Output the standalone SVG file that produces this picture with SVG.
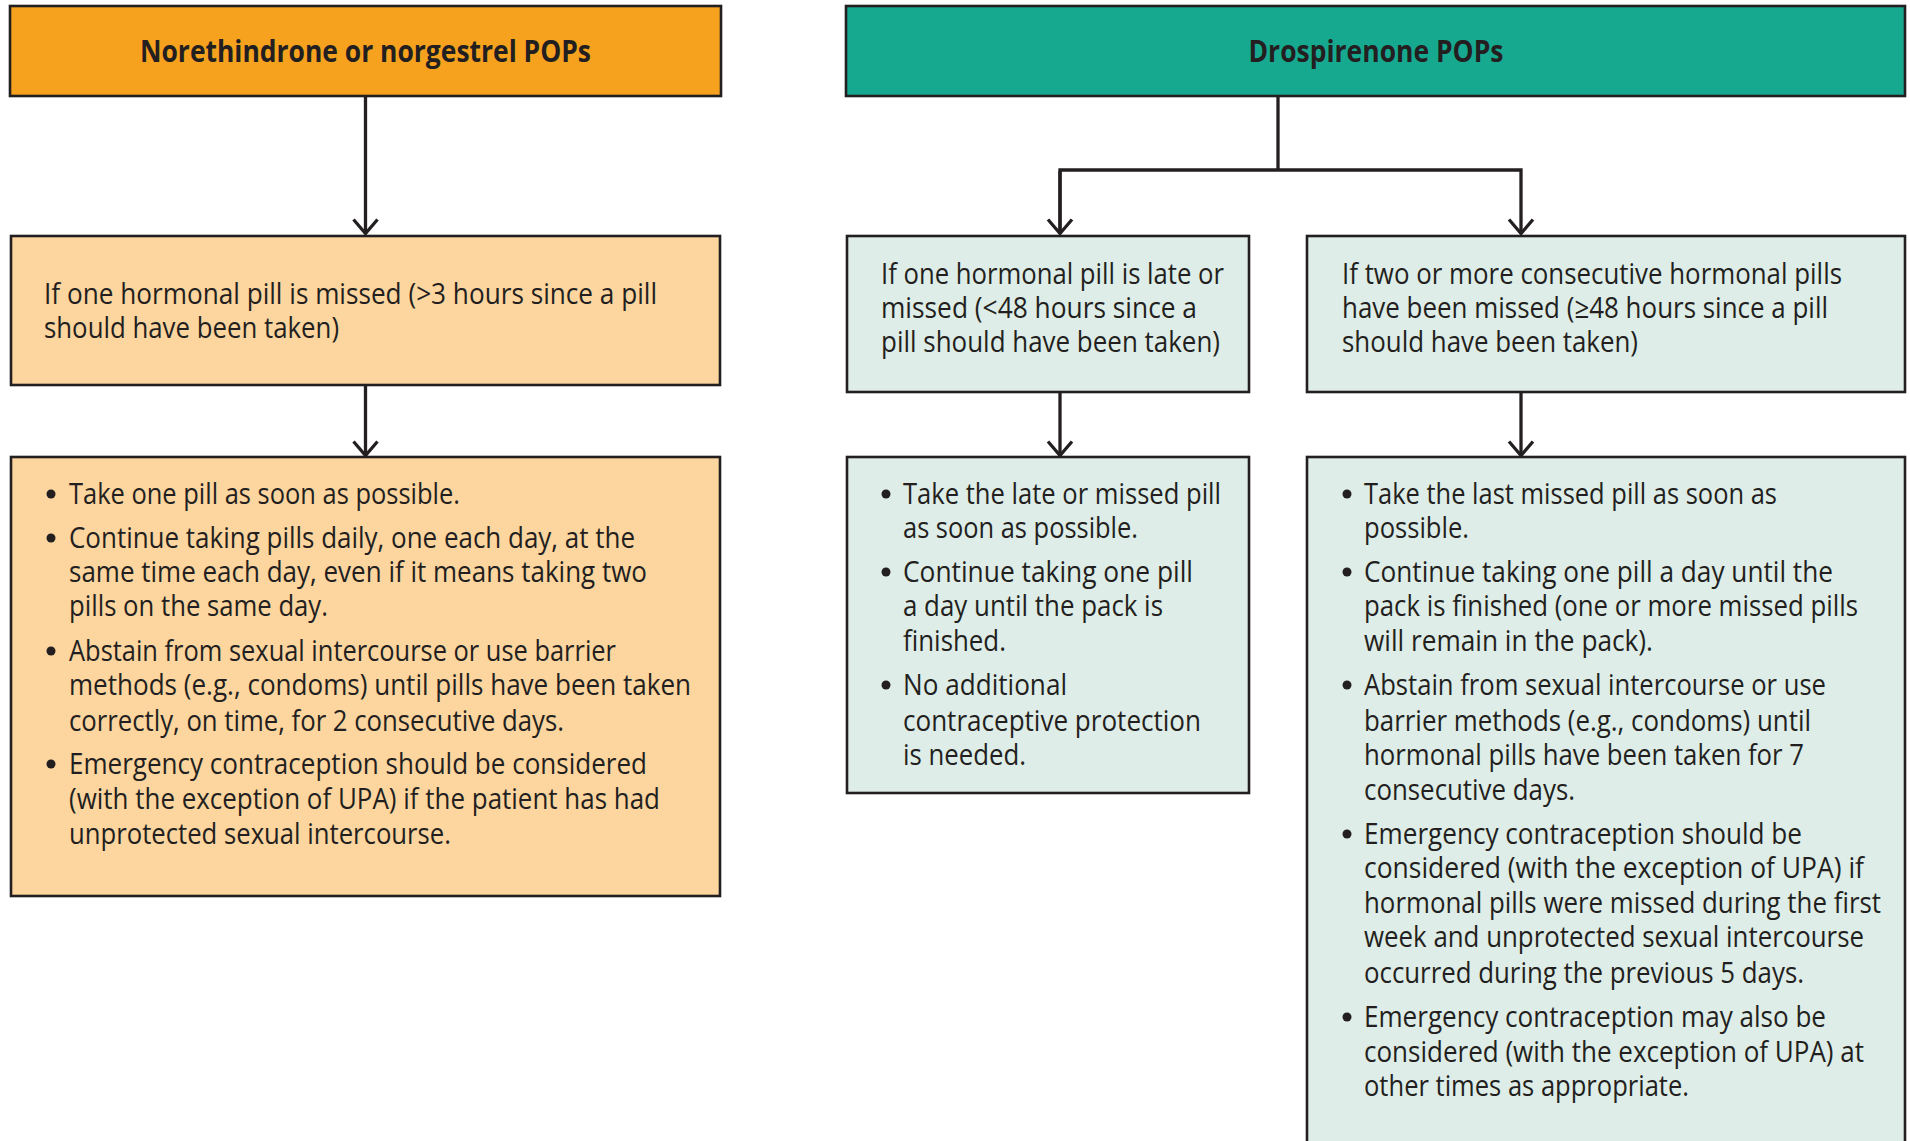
<svg xmlns="http://www.w3.org/2000/svg" width="1910" height="1141" viewBox="0 0 1910 1141">
<style>
.box{stroke:#231f20;stroke-width:2.6}
.h1{fill:#f6a21e}
.h2{fill:#16a990}
.lo{fill:#fcd59f}
.lt{fill:#deede7}
.hd{font-family:"Open Sans","Liberation Sans",sans-serif;font-weight:bold;font-size:30px;fill:#231f20;text-anchor:middle}
.t{font-family:"Open Sans","Liberation Sans",sans-serif;font-size:29px;fill:#231f20}
.dot{fill:#231f20}
.con{fill:none;stroke:#231f20;stroke-width:3.3}
</style>
<defs>
<marker id="arr" markerUnits="userSpaceOnUse" viewBox="0 0 20 30" markerWidth="20" markerHeight="30" refX="17.5" refY="15" orient="auto">
<path d="M3 3 L17 15 L3 27" fill="none" stroke="#231f20" stroke-width="3.3"/>
</marker>
</defs>
<rect width="1910" height="1141" fill="#ffffff"/>

<g id="connectors">
<path class="con" d="M365.5 97 V234" marker-end="url(#arr)"/>
<path class="con" d="M365.5 386 V456" marker-end="url(#arr)"/>
<path class="con" d="M1278 97 V170"/>
<path class="con" d="M1060 234 V170 H1521 V234" marker-end="url(#arr)"/>
<path class="con" d="M1060 171 V234" marker-end="url(#arr)"/>
<path class="con" d="M1060 393 V456" marker-end="url(#arr)"/>
<path class="con" d="M1521 393 V456" marker-end="url(#arr)"/>
</g>

<g id="header-norethindrone">
<rect class="box h1" x="10" y="6" width="711" height="90"/>
<text class="hd" x="365.5" y="62" textLength="451" lengthAdjust="spacingAndGlyphs">Norethindrone or norgestrel POPs</text>
</g>

<g id="header-drospirenone">
<rect class="box h2" x="846" y="6" width="1059" height="90"/>
<text class="hd" x="1376" y="62" textLength="255" lengthAdjust="spacingAndGlyphs">Drospirenone POPs</text>
</g>

<g id="nor-condition">
<rect class="box lo" x="11" y="236" width="709" height="149"/>
<text class="t" x="44" y="304" textLength="613" lengthAdjust="spacingAndGlyphs">If one hormonal pill is missed  (&gt;3 hours since a pill</text>
<text class="t" x="44" y="338" textLength="295" lengthAdjust="spacingAndGlyphs">should have been taken)</text>
</g>

<g id="nor-actions">
<rect class="box lo" x="11" y="457" width="709" height="439"/>
<circle class="dot" cx="51" cy="494" r="4.5"/>
<text class="t" x="69" y="504" textLength="391" lengthAdjust="spacingAndGlyphs">Take one pill as soon as possible.</text>
<circle class="dot" cx="51" cy="538" r="4.5"/>
<text class="t" x="69" y="548" textLength="566" lengthAdjust="spacingAndGlyphs">Continue taking pills daily, one each day, at the</text>
<text class="t" x="69" y="582" textLength="578" lengthAdjust="spacingAndGlyphs">same time each day, even if it means taking two</text>
<text class="t" x="69" y="616" textLength="259" lengthAdjust="spacingAndGlyphs">pills on the same day.</text>
<circle class="dot" cx="51" cy="651" r="4.5"/>
<text class="t" x="69" y="661" textLength="547" lengthAdjust="spacingAndGlyphs">Abstain from sexual intercourse or use barrier</text>
<text class="t" x="69" y="695" textLength="622" lengthAdjust="spacingAndGlyphs">methods (e.g., condoms) until pills have been taken</text>
<text class="t" x="69" y="731" textLength="495" lengthAdjust="spacingAndGlyphs">correctly, on time, for 2 consecutive days.</text>
<circle class="dot" cx="51" cy="764" r="4.5"/>
<text class="t" x="69" y="774" textLength="578" lengthAdjust="spacingAndGlyphs">Emergency contraception should be considered</text>
<text class="t" x="69" y="809" textLength="591" lengthAdjust="spacingAndGlyphs">(with the exception of UPA) if the patient has had</text>
<text class="t" x="69" y="844" textLength="382" lengthAdjust="spacingAndGlyphs">unprotected sexual intercourse.</text>
</g>

<g id="dro-late">
<rect class="box lt" x="847" y="236" width="402" height="156"/>
<text class="t" x="881" y="284" textLength="343" lengthAdjust="spacingAndGlyphs">If one hormonal pill is late or</text>
<text class="t" x="881" y="318" textLength="316" lengthAdjust="spacingAndGlyphs">missed  (&lt;48 hours since a</text>
<text class="t" x="881" y="352" textLength="339" lengthAdjust="spacingAndGlyphs">pill should have been taken)</text>
</g>

<g id="dro-missed">
<rect class="box lt" x="1307" y="236" width="598" height="156"/>
<text class="t" x="1342" y="284" textLength="500" lengthAdjust="spacingAndGlyphs">If two or more consecutive hormonal pills</text>
<text class="t" x="1342" y="318" textLength="486" lengthAdjust="spacingAndGlyphs">have been missed (≥48 hours since a pill</text>
<text class="t" x="1342" y="352" textLength="296" lengthAdjust="spacingAndGlyphs">should have been taken)</text>
</g>

<g id="dro-late-actions">
<rect class="box lt" x="847" y="457" width="402" height="336"/>
<circle class="dot" cx="886" cy="494" r="4.5"/>
<text class="t" x="903" y="504" textLength="318" lengthAdjust="spacingAndGlyphs">Take the late or missed pill</text>
<text class="t" x="903" y="538" textLength="235" lengthAdjust="spacingAndGlyphs">as soon as possible.</text>
<circle class="dot" cx="886" cy="572" r="4.5"/>
<text class="t" x="903" y="582" textLength="290" lengthAdjust="spacingAndGlyphs">Continue taking one pill</text>
<text class="t" x="903" y="616" textLength="260" lengthAdjust="spacingAndGlyphs">a day until the pack is</text>
<text class="t" x="903" y="651" textLength="103" lengthAdjust="spacingAndGlyphs">finished.</text>
<circle class="dot" cx="886" cy="685" r="4.5"/>
<text class="t" x="903" y="695" textLength="164" lengthAdjust="spacingAndGlyphs">No additional</text>
<text class="t" x="903" y="731" textLength="298" lengthAdjust="spacingAndGlyphs">contraceptive protection</text>
<text class="t" x="903" y="765" textLength="123" lengthAdjust="spacingAndGlyphs">is needed.</text>
</g>

<g id="dro-missed-actions">
<rect class="box lt" x="1307" y="457" width="598" height="710"/>
<circle class="dot" cx="1347" cy="494" r="4.5"/>
<text class="t" x="1364" y="504" textLength="413" lengthAdjust="spacingAndGlyphs">Take the last missed pill as soon as</text>
<text class="t" x="1364" y="538" textLength="105" lengthAdjust="spacingAndGlyphs">possible.</text>
<circle class="dot" cx="1347" cy="572" r="4.5"/>
<text class="t" x="1364" y="582" textLength="469" lengthAdjust="spacingAndGlyphs">Continue taking one pill a day until the</text>
<text class="t" x="1364" y="616" textLength="494" lengthAdjust="spacingAndGlyphs">pack is finished (one or more missed pills</text>
<text class="t" x="1364" y="651" textLength="289" lengthAdjust="spacingAndGlyphs">will remain in the pack).</text>
<circle class="dot" cx="1347" cy="685" r="4.5"/>
<text class="t" x="1364" y="695" textLength="462" lengthAdjust="spacingAndGlyphs">Abstain from sexual intercourse or use</text>
<text class="t" x="1364" y="731" textLength="447" lengthAdjust="spacingAndGlyphs">barrier methods (e.g., condoms) until</text>
<text class="t" x="1364" y="765" textLength="440" lengthAdjust="spacingAndGlyphs">hormonal pills have been taken for 7</text>
<text class="t" x="1364" y="800" textLength="211" lengthAdjust="spacingAndGlyphs">consecutive days.</text>
<circle class="dot" cx="1347" cy="834" r="4.5"/>
<text class="t" x="1364" y="844" textLength="438" lengthAdjust="spacingAndGlyphs">Emergency contraception should be</text>
<text class="t" x="1364" y="878" textLength="500" lengthAdjust="spacingAndGlyphs">considered (with the exception of UPA) if</text>
<text class="t" x="1364" y="913" textLength="517" lengthAdjust="spacingAndGlyphs">hormonal pills were missed during the first</text>
<text class="t" x="1364" y="947" textLength="500" lengthAdjust="spacingAndGlyphs">week and unprotected sexual intercourse</text>
<text class="t" x="1364" y="983" textLength="440" lengthAdjust="spacingAndGlyphs">occurred during the previous 5 days.</text>
<circle class="dot" cx="1347" cy="1017" r="4.5"/>
<text class="t" x="1364" y="1027" textLength="462" lengthAdjust="spacingAndGlyphs">Emergency contraception may also be</text>
<text class="t" x="1364" y="1062" textLength="500" lengthAdjust="spacingAndGlyphs">considered (with the exception of UPA) at</text>
<text class="t" x="1364" y="1096" textLength="325" lengthAdjust="spacingAndGlyphs">other times as appropriate.</text>
</g>
</svg>
